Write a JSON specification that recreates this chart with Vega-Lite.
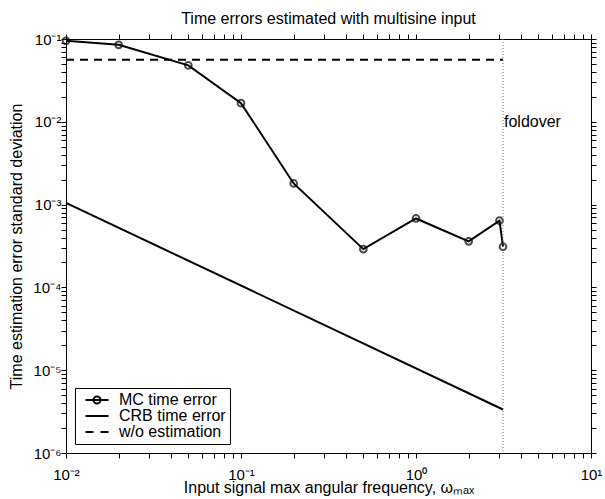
{
  "$schema": "https://vega.github.io/schema/vega-lite/v6.json",
  "width": 525,
  "height": 414,
  "autosize": "none",
  "padding": {"left": 66, "top": 39, "right": 14, "bottom": 46},
  "background": "white",
  "config": {
    "view": {"stroke": "black", "strokeWidth": 1},
    "font": "Liberation Sans",
    "axis": {"grid": false, "ticks": true, "zindex": 1, "domainColor": "black", "tickColor": "black", "tickWidth": 1, "tickOpacity": 1, "labelColor": "black", "titleColor": "black", "labelFont": "Liberation Sans", "titleFont": "Liberation Sans", "labelFontSize": 15, "titleFontSize": 16, "titleFontWeight": "normal", "labelFlush": false, "labelOverlap": false}
  },
  "title": {"text": "Time errors estimated with multisine input", "fontSize": 16, "font": "Liberation Sans", "fontWeight": "normal", "color": "black", "anchor": "middle", "offset": -8, "baseline": "alphabetic"},
  "datasets": {
    "mc": [
      {"w": 0.01, "e": 0.095},
      {"w": 0.02, "e": 0.085},
      {"w": 0.05, "e": 0.048},
      {"w": 0.1, "e": 0.0168},
      {"w": 0.2, "e": 0.0018},
      {"w": 0.5, "e": 0.00029},
      {"w": 1, "e": 0.00068},
      {"w": 2, "e": 0.00036},
      {"w": 3, "e": 0.00064},
      {"w": 3.14159, "e": 0.00031}
    ],
    "crb": [
      {"w": 0.01, "e": 0.00105},
      {"w": 3.14159, "e": 0.00000335}
    ],
    "wo": [
      {"w": 0.01, "e": 0.056},
      {"w": 3.14159, "e": 0.056}
    ],
    "fold": [{"w": 3.14159, "e": 0.01, "label": "foldover"}],
    "leg": [
      {"series": "MC time error"},
      {"series": "CRB time error"},
      {"series": "w/o estimation"}
    ]
  },
  "resolve": {"axis": {"x": "independent", "y": "independent"}},
  "layer": [
    {
      "data": {"name": "mc"},
      "mark": {"type": "line", "color": "black", "strokeWidth": 2},
      "encoding": {
        "x": {"field": "w", "type": "quantitative", "scale": {"type": "log", "domain": [0.01, 10], "nice": false},
          "axis": {"orient": "bottom", "title": "Input signal max angular frequency, ωₘₐₓ", "titlePadding": -3,
            "values": [0.01,0.1,1,10],
            "labelExpr": "datum.value == 0.01 ? '10⁻²' : datum.value == 0.1 ? '10⁻¹' : datum.value == 1 ? '10⁰' : datum.value == 10 ? '10¹' : ''",
            "tickSize": 5, "tickOpacity": 0,
            "labelPadding": 9}},
        "y": {"field": "e", "type": "quantitative", "scale": {"type": "log", "domain": [0.000001, 0.1], "nice": false},
          "axis": {"orient": "left", "title": "Time estimation error standard deviation", "titlePadding": 8,
            "values": [0.000001,0.00001,0.0001,0.001,0.01,0.1],
            "labelExpr": "datum.value == 0.000001 ? '10⁻⁶' : datum.value == 0.00001 ? '10⁻⁵' : datum.value == 0.0001 ? '10⁻⁴' : datum.value == 0.001 ? '10⁻³' : datum.value == 0.01 ? '10⁻²' : datum.value == 0.1 ? '10⁻¹' : ''",
            "tickSize": 5, "tickOpacity": 0,
            "labelPadding": 0}}
      }
    },
    {
      "data": {"name": "mc"},
      "mark": {"type": "point", "shape": "circle", "filled": false, "color": "black", "size": 45, "strokeWidth": 2},
      "encoding": {
        "x": {"field": "w", "type": "quantitative",
          "axis": {"orient": "top", "title": null, "labels": false,
            "values": [0.01,0.02,0.03,0.04,0.05,0.06,0.07,0.08,0.09,0.1,0.2,0.3,0.4,0.5,0.6,0.7,0.8,0.9,1,2,3,4,5,6,7,8,9,10],
            "tickSize": 5,
            "encode": {"ticks": {"update": {"y2": {"signal": "abs(log(datum.value)/LN10 - round(log(datum.value)/LN10)) < 0.001 ? 6 : 3.5"}}}}}},
        "y": {"field": "e", "type": "quantitative",
          "axis": {"orient": "right", "title": null, "labels": false,
            "values": [0.000001,0.000002,0.000003,0.000004,0.000005,0.000006,0.000007,0.000008,0.000009,0.00001,0.00002,0.00003,0.00004,0.00005,0.00006,0.00007,0.00008,0.00009,0.0001,0.0002,0.0003,0.0004,0.0005,0.0006,0.0007,0.0008,0.0009,0.001,0.002,0.003,0.004,0.005,0.006,0.007,0.008,0.009,0.01,0.02,0.03,0.04,0.05,0.06,0.07,0.08,0.09,0.1],
            "tickSize": 5,
            "encode": {"ticks": {"update": {"x2": {"signal": "abs(log(datum.value)/LN10 - round(log(datum.value)/LN10)) < 0.001 ? -6 : -3.5"}}}}}}
      }
    },
    {
      "data": {"name": "crb"},
      "mark": {"type": "line", "color": "black", "strokeWidth": 2},
      "encoding": {
        "x": {"field": "w", "type": "quantitative",
          "axis": {"orient": "bottom", "title": null, "labels": false, "domain": false,
            "values": [0.01,0.02,0.03,0.04,0.05,0.06,0.07,0.08,0.09,0.1,0.2,0.3,0.4,0.5,0.6,0.7,0.8,0.9,1,2,3,4,5,6,7,8,9,10],
            "tickSize": 5,
            "encode": {"ticks": {"update": {"y2": {"signal": "abs(log(datum.value)/LN10 - round(log(datum.value)/LN10)) < 0.001 ? -6 : -3.5"}}}}}},
        "y": {"field": "e", "type": "quantitative",
          "axis": {"orient": "left", "title": null, "labels": false, "domain": false,
            "values": [0.000001,0.000002,0.000003,0.000004,0.000005,0.000006,0.000007,0.000008,0.000009,0.00001,0.00002,0.00003,0.00004,0.00005,0.00006,0.00007,0.00008,0.00009,0.0001,0.0002,0.0003,0.0004,0.0005,0.0006,0.0007,0.0008,0.0009,0.001,0.002,0.003,0.004,0.005,0.006,0.007,0.008,0.009,0.01,0.02,0.03,0.04,0.05,0.06,0.07,0.08,0.09,0.1],
            "tickSize": 5,
            "encode": {"ticks": {"update": {"x2": {"signal": "abs(log(datum.value)/LN10 - round(log(datum.value)/LN10)) < 0.001 ? 6 : 3.5"}}}}}}
      }
    },
    {
      "data": {"name": "wo"},
      "mark": {"type": "line", "color": "black", "strokeWidth": 2, "strokeDash": [8, 6]},
      "encoding": {
        "x": {"field": "w", "type": "quantitative", "axis": null},
        "y": {"field": "e", "type": "quantitative", "axis": null}
      }
    },
    {
      "data": {"name": "fold"},
      "mark": {"type": "rule", "color": "#777777", "strokeWidth": 1, "strokeDash": [1, 2]},
      "encoding": {
        "x": {"field": "w", "type": "quantitative", "axis": null}
      }
    },
    {
      "data": {"name": "fold"},
      "mark": {"type": "text", "align": "left", "baseline": "middle", "dx": 1, "fontSize": 16, "font": "Liberation Sans", "color": "black"},
      "encoding": {
        "x": {"field": "w", "type": "quantitative", "axis": null},
        "y": {"field": "e", "type": "quantitative", "axis": null},
        "text": {"field": "label"}
      }
    },
    {
      "data": {"name": "leg"},
      "mark": {"type": "point", "color": "black", "opacity": 0, "filled": false},
      "encoding": {
        "shape": {"field": "series", "type": "nominal",
          "scale": {"domain": ["MC time error", "CRB time error", "w/o estimation"],
            "range": ["M-2.3,0H2.3M0.7,0A0.7,0.7 0 1,1 -0.7,0A0.7,0.7 0 1,1 0.7,0", "M-2.3,0H2.3", "M-2.3,0H-0.7M0.7,0H2.3"]},
          "legend": {"title": null, "orient": "bottom-left", "offset": 9, "strokeColor": "black", "fillColor": "white", "padding": 4,
            "labelFontSize": 16, "labelFont": "Liberation Sans", "labelColor": "black", "symbolSize": 100, "symbolStrokeWidth": 2,
            "symbolStrokeColor": "black", "symbolFillColor": "transparent", "symbolOffset": 10, "labelOffset": 14, "rowPadding": 0, "symbolOpacity": 1,
            "encode": {"symbols": {"update": {"opacity": {"value": 1}, "stroke": {"value": "black"}, "strokeWidth": {"value": 2}, "fill": {"value": "transparent"}}}}}}
      }
    }
  ]
}
